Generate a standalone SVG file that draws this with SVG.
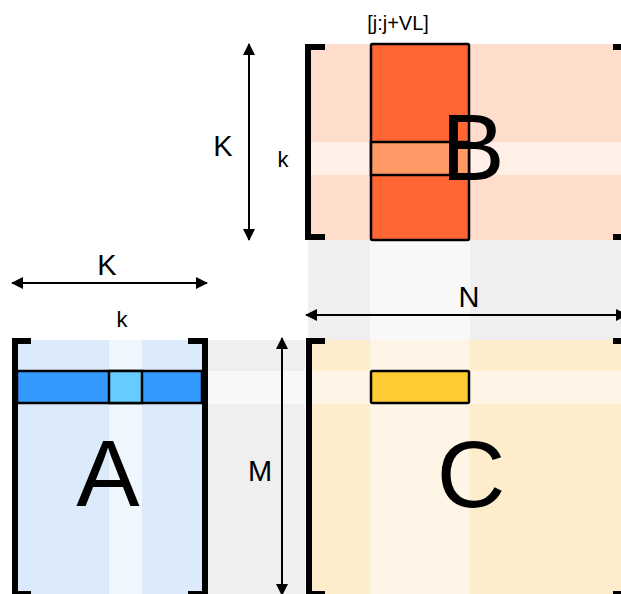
<svg xmlns="http://www.w3.org/2000/svg" width="621" height="594" viewBox="0 0 621 594">
  <style>
    .lbl { font-family: "Liberation Sans", Arial, sans-serif; fill: #000; text-anchor: middle; }
    .big { font-size: 95px; }
    .dim { font-size: 29px; }
    .sm { font-size: 22px; }
    .idx { font-size: 20px; }
    .br { fill: none; stroke: #000; stroke-width: 6; stroke-linecap: butt; }
    .cell { stroke: #000; stroke-width: 2.5; }
    .arr { stroke: #000; stroke-width: 2; fill: none; marker-start: url(#ah); marker-end: url(#ah); }
  </style>
  <defs>
    <marker id="ah" viewBox="0 0 12 12" refX="11" refY="6" markerWidth="12" markerHeight="12" markerUnits="userSpaceOnUse" orient="auto-start-reverse">
      <path d="M0,0 L12,6 L0,12 Z" fill="#000"/>
    </marker>
  </defs>
  <rect width="621" height="594" fill="#fff"/>

  <!-- shading bands between the matrices -->
  <g id="bands">
    <rect x="308" y="240" width="313" height="100" fill="#EFEFEF"/>
    <rect x="370" y="240" width="100" height="100" fill="#F8F8F8"/>
    <rect x="208" y="340" width="97" height="254" fill="#EFEFEF"/>
    <rect x="208" y="371" width="97" height="33" fill="#F8F8F8"/>
  </g>

  <!-- matrix B -->
  <g id="matrixB">
    <rect x="311" y="44" width="310" height="196" fill="#FEDDCC"/>
    <rect x="311" y="142" width="310" height="33" fill="#FFEFE6"/>
    <rect class="cell" x="371" y="44" width="98" height="196" rx="1.5" fill="#FF6633"/>
    <rect class="cell" x="371" y="142" width="98" height="33" fill="#FF9966"/>
    <path class="br" d="M325,47 H308 V237 H325"/>
    <path class="br" d="M613,47 H627 M613,237 H627"/>
    <text class="lbl big" x="473" y="180">B</text>
  </g>

  <!-- matrix A -->
  <g id="matrixA">
    <rect x="18" y="340" width="184" height="254" fill="#DBEBFC"/>
    <rect x="109" y="340" width="33" height="254" fill="#EFF6FE"/>
    <rect class="cell" x="17" y="371" width="185" height="32" fill="#3399FF"/>
    <rect class="cell" x="109" y="371" width="33" height="32" fill="#66CCFF"/>
    <path class="br" d="M31,341 H15 V594 H31"/>
    <path class="br" d="M188,341 H205 V594 H188"/>
    <text class="lbl big" x="108" y="506">A</text>
  </g>

  <!-- matrix C -->
  <g id="matrixC">
    <rect x="312" y="340" width="309" height="254" fill="#FEEDCC"/>
    <rect x="370" y="340" width="99" height="254" fill="#FFF5E7"/>
    <rect x="312" y="371" width="309" height="33" fill="#FFF5E7"/>
    <rect class="cell" x="371" y="371" width="98" height="32" rx="1.5" fill="#FFCC33"/>
    <path class="br" d="M325,341 H309 V594 H325"/>
    <path class="br" d="M613,341 H627 M613,594 H627"/>
    <text class="lbl big" x="471" y="507">C</text>
  </g>

  <!-- dimension arrows -->
  <g id="connectors">
    <line class="arr" x1="249" y1="44" x2="249" y2="240"/>
    <line class="arr" x1="12" y1="283" x2="207" y2="283"/>
    <line class="arr" x1="306" y1="315" x2="627" y2="315"/>
    <line class="arr" x1="282" y1="338" x2="282" y2="595"/>
  </g>

  <!-- labels -->
  <g id="labels">
    <text class="lbl idx" x="398" y="30">[j:j+VL]</text>
    <text class="lbl dim" x="223" y="156">K</text>
    <text class="lbl sm" x="283" y="167">k</text>
    <text class="lbl dim" x="107" y="275">K</text>
    <text class="lbl sm" x="122" y="327">k</text>
    <text class="lbl dim" x="469" y="307">N</text>
    <text class="lbl dim" x="260" y="481">M</text>
  </g>
</svg>
